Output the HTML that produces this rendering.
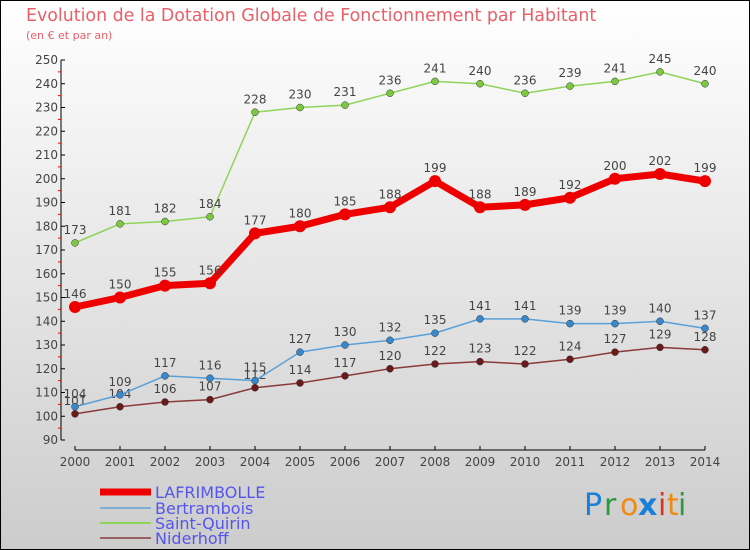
<!DOCTYPE html>
<html><head><meta charset="utf-8"><style>
body{margin:0}
#wrap{width:750px;height:550px;position:relative;overflow:hidden;font-family:"DejaVu Sans","Liberation Sans",sans-serif}
</style></head><body>
<div id="wrap">
<svg id="svg" width="750" height="550" xmlns="http://www.w3.org/2000/svg">
<defs><linearGradient id="bg" x1="0" y1="0" x2="0" y2="1"><stop offset="0" stop-color="#ffffff"/><stop offset="1" stop-color="#cccccc"/></linearGradient></defs>
<rect x="0.5" y="0.5" width="749" height="549" fill="url(#bg)" stroke="#000"/>
<text x="26" y="21" font-size="17.4" fill="#e8606a">Evolution de la Dotation Globale de Fonctionnement par Habitant</text>
<text x="26" y="39" font-size="11" fill="#e8606a">(en € et par an)</text>
<g id="axes"></g><g id="series"></g><g id="legend"></g>
<g font-size="30" font-family="DejaVu Sans, sans-serif">
<text x="584" y="515" fill="#1a7fd8">P</text><text x="604" y="515" fill="#2a9a3a">r</text><text x="620" y="515" fill="#f08a10">o</text><text x="638" y="515" fill="#1a7fd8" font-weight="bold">x</text><text x="658" y="515" fill="#e03020">i</text><text x="667" y="515" fill="#f08a10">t</text><text x="678" y="515" fill="#2a9a3a">i</text>
</g>
</svg></div>
<script>
const years=[2000,2001,2002,2003,2004,2005,2006,2007,2008,2009,2010,2011,2012,2013,2014];
const lafrimbolle=[146,150,155,156,177,180,185,188,199,188,189,192,200,202,199];
const bertrambois=[104,109,117,116,115,127,130,132,135,141,141,139,139,140,137];
const saintQuirin=[173,181,182,184,228,230,231,236,241,240,236,239,241,245,240];
const niderhoff=[101,104,106,107,112,114,117,120,122,123,122,124,127,129,128];
const yTicks=[90,100,110,120,130,140,150,160,170,180,190,200,210,220,230,240,250];
const NS='http://www.w3.org/2000/svg';
const xS=i=>75+i*45;
const yS=v=>440-(v-90)*23.75/10;
function mk(t,a,p){const e=document.createElementNS(NS,t);for(const k in a)e.setAttribute(k,a[k]);p.appendChild(e);return e;}
const ax=document.getElementById('axes');
let l=mk('line',{x1:61,y1:60,x2:61,y2:440,stroke:'#000'},ax);


yTicks.forEach((v,i)=>{
  mk('line',{x1:61,y1:yS(v),x2:65,y2:yS(v),stroke:'#000'},ax);
  if(i<yTicks.length-1)mk('line',{x1:58,y1:yS(v+5),x2:61,y2:yS(v+5),stroke:'#f00'},ax);
  const t=mk('text',{x:58,y:yS(v)+4,'text-anchor':'end','font-size':12,fill:'#444'},ax);
  
  
  t.textContent=v;
});
l=mk('line',{x1:75,y1:450,x2:705,y2:450,stroke:'#000'},ax);


years.forEach((y,i)=>{
  mk('line',{x1:xS(i),y1:446,x2:xS(i),y2:450,stroke:'#000'},ax);
  const t=mk('text',{x:xS(i),y:466,'text-anchor':'middle','font-size':12,fill:'#444'},ax);
  
  
  t.textContent=y;
});
const series=[
 {name:'saint-quirin',d:saintQuirin,c:'#8fd45a',dot:'#7cc840',w:1.5,r:3.5},
 {name:'niderhoff',d:niderhoff,c:'#8a3a3a',dot:'#6a1a1a',w:1.5,r:3.5},
 {name:'bertrambois',d:bertrambois,c:'#5aa0d8',dot:'#3a88cc',w:1.5,r:3.5},
 {name:'lafrimbolle',d:lafrimbolle,c:'#ee0000',dot:'#ee0000',w:7,r:6},
];
const sg=document.getElementById('series');
series.forEach(s=>{
  const g=mk('g',{},sg);
  
  
  const pl=mk('polyline',{points:s.d.map((v,i)=>xS(i)+','+yS(v)).join(' '),fill:'none',stroke:s.c,'stroke-width':s.w,'stroke-linejoin':'round'},g);
  
  
  s.d.forEach((v,i)=>{
    const c=mk('circle',{cx:xS(i),cy:yS(v),r:s.r,fill:s.dot,stroke:s.name=='lafrimbolle'?'none':'#333','stroke-width':0.5},g);
    
    
    const t=mk('text',{x:xS(i),y:yS(v)-9,'text-anchor':'middle','font-size':12,fill:'#444'},g);
    
    
    t.textContent=v;
  });
});
const lg=document.getElementById('legend');
[['LAFRIMBOLLE','#ee0000',7,492],['Bertrambois','#7aaed4',2,508],['Saint-Quirin','#8fd45a',2,523],['Niderhoff','#9a6060',2,538]].forEach(e=>{
  const g=mk('g',{},lg);
  
  
  mk('line',{x1:100,y1:e[3],x2:151,y2:e[3],stroke:e[1],'stroke-width':e[2]},g);
  const t=mk('text',{x:155,y:e[3]+6,'font-size':16,fill:'#5555ee'},g);
  t.textContent=e[0];
});
</script>
</body></html>
